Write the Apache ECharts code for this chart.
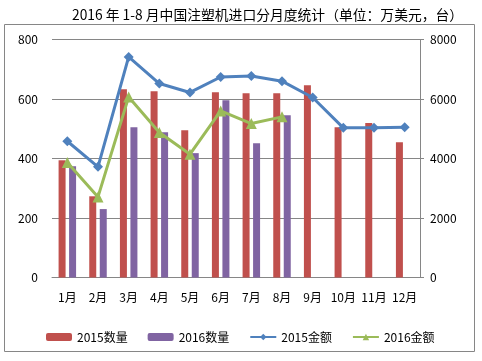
<!DOCTYPE html>
<html>
<head>
<meta charset="utf-8">
<script src="https://cdn.jsdelivr.net/npm/echarts@6/dist/echarts.min.js"></script>
<style>html,body{margin:0;padding:0;background:#fff}#c{width:482px;height:361px}</style>
</head>
<body>
<div id="c"></div>
<script>
var categories = ['1月','2月','3月','4月','5月','6月','7月','8月','9月','10月','11月','12月'];
var qty2015 = [394, 273, 633, 626, 495, 623, 619, 619, 646, 505, 519, 455];
var qty2016 = [374, 230, 505, 488, 418, 596, 451, 545];
var amt2015 = [4580, 3720, 7415, 6520, 6220, 6740, 6775, 6600, 6050, 5030, 5030, 5050];
var amt2016 = [3865, 2710, 6070, 4875, 4145, 5600, 5175, 5400];
var leftTicks = [0, 200, 400, 600, 800];
var rightTicks = [0, 2000, 4000, 6000, 8000];

var FONT = '"Noto Sans CJK SC", "Noto Sans", sans-serif';
var chart = echarts.init(document.getElementById('c'));
chart.setOption({
  animation: false,
  textStyle: { fontFamily: FONT },
  title: {
    text: '2016 年 1-8 月中国注塑机进口分月度统计（单位：万美元，台）',
    left: 67, top: 3,
    textStyle: { fontSize: 13.8, fontWeight: 'normal', color: '#000', fontFamily: FONT }
  },
  graphic: [{
    type: 'rect', shape: { x: 4.5, y: 24.5, width: 470, height: 327 },
    style: { fill: 'none', stroke: '#868686', lineWidth: 1 }, z: -1
  }],
  legend: {
    left: 41, top: 326, itemWidth: 26, itemHeight: 8, itemGap: 20,
    textStyle: { fontSize: 12, color: '#000', fontFamily: FONT },
    data: ['2015数量', '2016数量',
      { name: '2015金额', itemStyle: { color: '#4F81BD' } },
      { name: '2016金额', itemStyle: { color: '#9BBB59' } }]
  },
  grid: { left: 52, right: 62, top: 39.5, bottom: 83.5 },
  xAxis: {
    type: 'category', data: categories,
    axisLine: { lineStyle: { color: '#868686', width: 1 } },
    axisTick: { show: false },
    axisLabel: { color: '#000', fontSize: 12, margin: 14, interval: 0 }
  },
  yAxis: [{
    type: 'value', min: leftTicks[0], max: leftTicks[leftTicks.length - 1], interval: 200,
    axisLine: { show: false }, axisTick: { show: false },
    axisLabel: { color: '#000', fontSize: 12, margin: 14 },
    splitLine: { lineStyle: { color: '#868686', width: 1 } }
  }, {
    type: 'value', min: rightTicks[0], max: rightTicks[rightTicks.length - 1], interval: 2000,
    axisLine: { show: true, lineStyle: { color: '#868686', width: 1 } },
    axisTick: { show: true, length: 4, lineStyle: { color: '#868686' } },
    axisLabel: { color: '#000', fontSize: 12, margin: 10, formatter: function (v) { return String(v); } },
    splitLine: { show: false }
  }],
  series: [{
    name: '2015数量', type: 'bar', data: qty2015, barWidth: 7, barGap: '50%',
    itemStyle: { color: '#C0504D' }
  }, {
    name: '2016数量', type: 'bar', data: qty2016, barWidth: 7,
    itemStyle: { color: '#8064A2' }
  }, {
    name: '2015金额', type: 'line', yAxisIndex: 1, data: amt2015,
    symbol: 'diamond', symbolSize: 10,
    lineStyle: { color: '#4F81BD', width: 3 },
    itemStyle: { color: '#4F81BD' }
  }, {
    name: '2016金额', type: 'line', yAxisIndex: 1, data: amt2016,
    symbol: 'triangle', symbolSize: 11,
    lineStyle: { color: '#9BBB59', width: 3 },
    itemStyle: { color: '#9BBB59' }
  }]
});
</script>
</body>
</html>
